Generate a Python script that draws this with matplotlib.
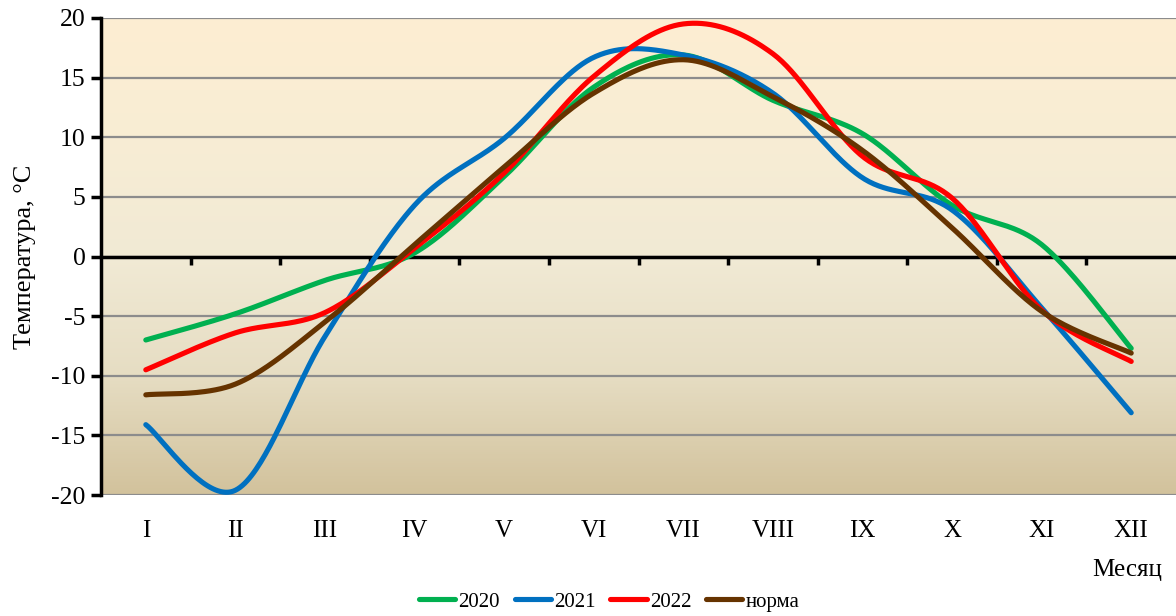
import numpy as np
import matplotlib
matplotlib.use("Agg")
import matplotlib.pyplot as plt
from matplotlib.colors import LinearSegmentedColormap

plt.rcParams['font.family'] = ['Liberation Serif', 'DejaVu Serif']
plt.rcParams['axes.unicode_minus'] = False

months = ['I', 'II', 'III', 'IV', 'V', 'VI', 'VII', 'VIII', 'IX', 'X', 'XI', 'XII']
t2020 = [-7.0, -4.8, -2.0, 0.3, 6.7, 14.2, 16.9, 13.1, 10.3, 4.3, 1.0, -7.7]
t2021 = [-14.1, -19.6, -6.7, 4.3, 9.9, 16.7, 16.9, 13.7, 6.6, 3.9, -4.3, -13.1]
t2022 = [-9.5, -6.4, -4.7, 0.7, 7.0, 15.1, 19.5, 17.0, 8.4, 4.9, -4.5, -8.8]
norma = [-11.6, -10.7, -5.5, 1.0, 7.5, 13.7, 16.5, 13.4, 8.9, 2.4, -4.6, -8.1]

series = [('2020', t2020, '#00B050'),
          ('2021', t2021, '#0070C0'),
          ('2022', t2022, '#FF0000'),
          ('норма', norma, '#663300')]


def smooth(xs, ys, n=40):
    # excel-like bezier smoothing through the points
    p = np.column_stack([xs, ys]).astype(float)
    out = []
    for i in range(len(p) - 1):
        p0 = p[i - 1] if i > 0 else p[i]
        p1, p2 = p[i], p[i + 1]
        p3 = p[i + 2] if i + 2 < len(p) else p[i + 1]
        c1 = p1 + (p2 - p0) / 6
        c2 = p2 - (p3 - p1) / 6
        t = np.linspace(0, 1, n)[:, None]
        seg = ((1 - t) ** 3) * p1 + 3 * ((1 - t) ** 2) * t * c1 + 3 * (1 - t) * t ** 2 * c2 + t ** 3 * p2
        out.append(seg if i == 0 else seg[1:])
    out = np.vstack(out)
    return out[:, 0], out[:, 1]


fig = plt.figure(figsize=(11.76, 6.16), dpi=100)
ax = fig.add_axes([0.0859, 0.1964, 0.9141, 0.7744])

cmap = LinearSegmentedColormap.from_list('bg', ['#D2C29C', '#E6DDC3', '#F1EAD5', '#F8EDD4', '#FDEED2'])
grad = np.linspace(0, 1, 256)[:, None]
ax.imshow(grad, cmap=cmap, origin='lower', extent=[0, 1, 0, 1], transform=ax.transAxes,
          aspect='auto', zorder=0)

x = np.arange(1, 13)
for name, vals, col in series:
    sx, sy = smooth(x, vals)
    ax.plot(sx, sy, color=col, lw=3.7, solid_capstyle='round', label=name, zorder=3)

ax.set_xlim(0.5, 12.5)
ax.set_ylim(-20, 20)
ax.set_yticks(range(-20, 21, 5))
ax.yaxis.grid(True, color='#8C8C8C', lw=1.6, zorder=1)
ax.set_axisbelow(True)

for s in ['top', 'right']:
    ax.spines[s].set_visible(False)
ax.spines['left'].set_linewidth(2.5)
ax.spines['bottom'].set_position(('data', 0))
ax.spines['bottom'].set_linewidth(2.5)
ax.spines['bottom'].set_zorder(2)

ax.set_xticks(x)
ax.set_xticklabels([])
ax.tick_params(axis='x', which='major', length=0)
ax.set_xticks(np.arange(1.5, 12, 1), minor=True)
ax.tick_params(axis='x', which='minor', direction='out', length=6, width=2.5)
ax.tick_params(axis='y', direction='out', length=7, width=2.5, labelsize=18.5, pad=4)

sec = ax.secondary_xaxis(0.0)
sec.set_xticks(x)
sec.set_xticklabels(months)
sec.tick_params(length=0, labelsize=18, pad=18)
sec.spines['bottom'].set_visible(False)

ax.set_ylabel('Температура, °C', fontsize=19, labelpad=11)
fig.text(0.988, 0.074, 'Месяц', fontsize=18, ha='right', va='center')

ax.legend(loc='center', bbox_to_anchor=(0.518, 0.023), bbox_transform=fig.transFigure,
          ncol=4, frameon=False, fontsize=15, handlelength=1.75, handletextpad=0.15,
          columnspacing=0.7)

fig.savefig('out.png', dpi=100)
